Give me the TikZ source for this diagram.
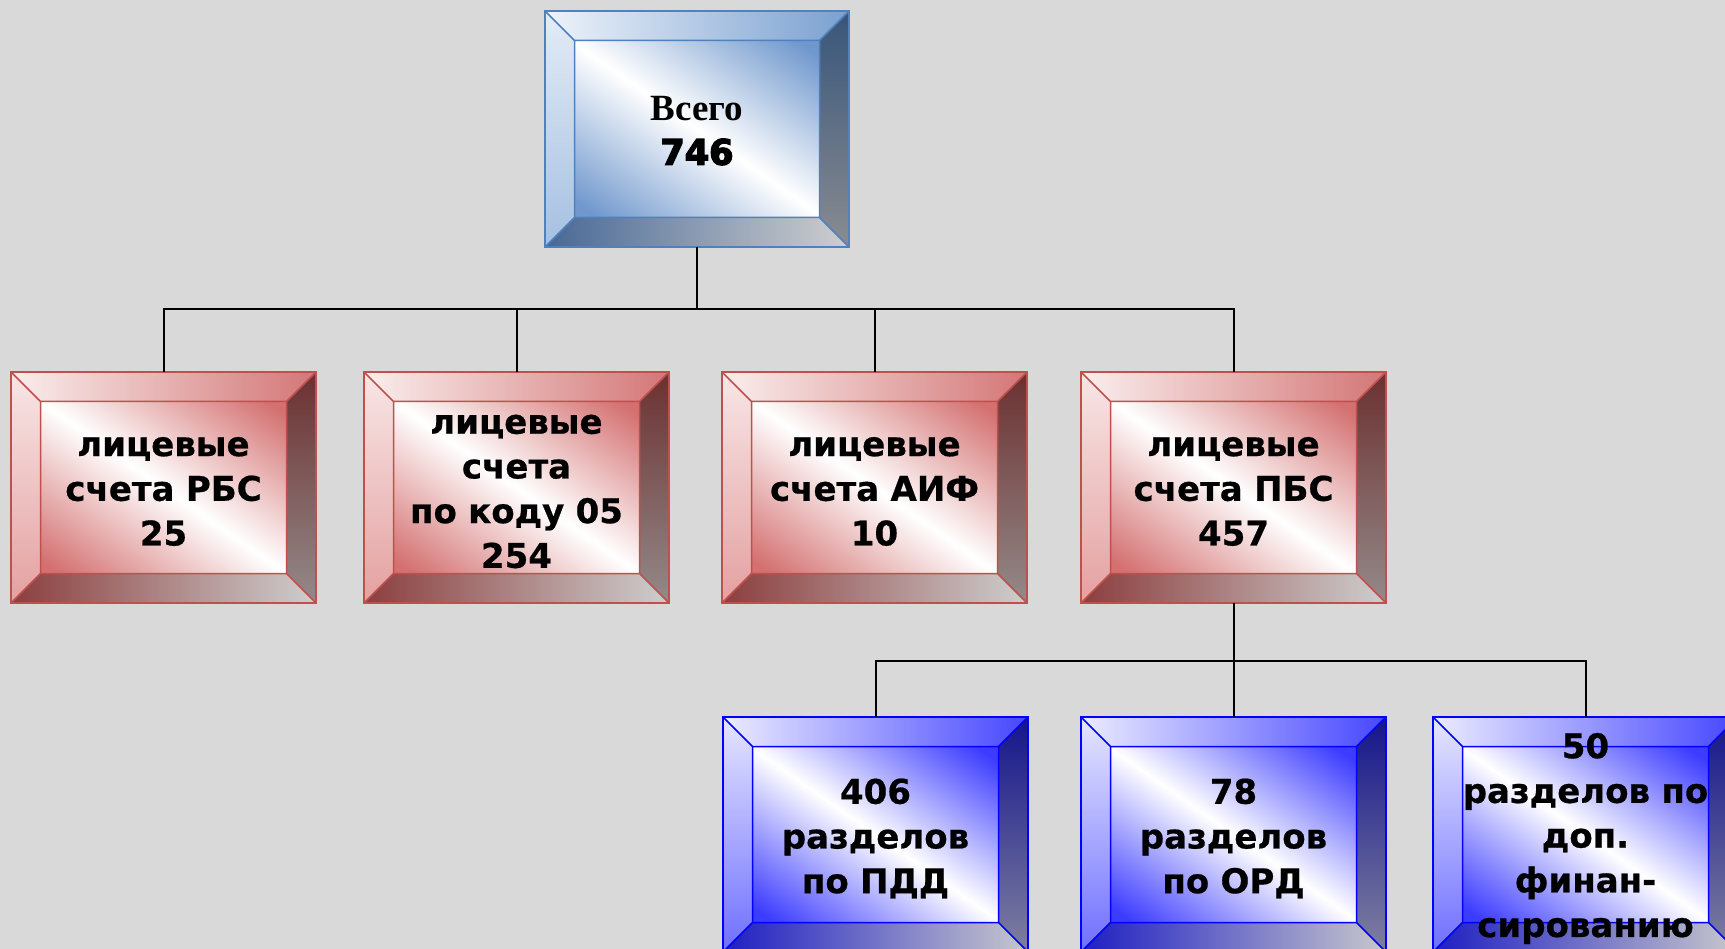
\documentclass[tikz,border=0pt]{standalone}
\usepackage{fontspec}
\newfontfamily\boxfont[FakeBold=0.6]{DejaVu Sans Bold}
\newfontfamily\heavyfont[FakeBold=4]{DejaVu Sans Bold}
\newfontfamily\serifb{Liberation Serif}
\definecolor{bg}{RGB}{217,217,217}
% red boxes
\definecolor{RLine}{RGB}{192,80,77}
\definecolor{RFace}{RGB}{212,112,112}
\definecolor{RTopL}{RGB}{250,238,238}
\definecolor{RTopR}{RGB}{212,118,118}
\definecolor{RLeftT}{RGB}{248,230,230}
\definecolor{RLeftB}{RGB}{228,160,160}
\definecolor{RRightT}{RGB}{108,48,48}
\definecolor{RRightB}{RGB}{148,138,138}
\definecolor{RBotL}{RGB}{140,62,62}
\definecolor{RBotR}{RGB}{206,206,206}
% top box
\definecolor{TLine}{RGB}{79,129,189}
\definecolor{TFace}{RGB}{112,152,205}
\definecolor{TTopL}{RGB}{238,243,250}
\definecolor{TTopR}{RGB}{122,160,208}
\definecolor{TLeftT}{RGB}{228,236,246}
\definecolor{TLeftB}{RGB}{165,192,225}
\definecolor{TRightT}{RGB}{55,85,122}
\definecolor{TRightB}{RGB}{138,140,145}
\definecolor{TBotL}{RGB}{72,104,150}
\definecolor{TBotR}{RGB}{206,206,206}
% vivid blue boxes
\definecolor{BLine}{RGB}{0,0,255}
\definecolor{BFace}{RGB}{60,60,255}
\definecolor{BTopL}{RGB}{236,236,255}
\definecolor{BTopR}{RGB}{70,70,255}
\definecolor{BLeftT}{RGB}{230,230,255}
\definecolor{BLeftB}{RGB}{110,110,255}
\definecolor{BRightT}{RGB}{20,20,140}
\definecolor{BRightB}{RGB}{128,128,160}
\definecolor{BBotL}{RGB}{30,30,195}
\definecolor{BBotR}{RGB}{200,200,205}
\tikzset{
  bevel/.style={
    rectangle, inner sep=0pt, outer sep=0pt,
    draw=#1Line, line width=1.5pt,
    path picture={
      \coordinate (SW) at (path picture bounding box.south west);
      \coordinate (NE) at (path picture bounding box.north east);
      \coordinate (NW) at (path picture bounding box.north west);
      \coordinate (SE) at (path picture bounding box.south east);
      \coordinate (FC) at (path picture bounding box.center);
      \coordinate (sw) at ([shift={(29.5pt,29.5pt)}]SW);
      \coordinate (ne) at ([shift={(-29.5pt,-29.5pt)}]NE);
      \coordinate (nw) at ([shift={(29.5pt,-29.5pt)}]NW);
      \coordinate (se) at ([shift={(-29.5pt,29.5pt)}]SE);
      \path[left color=#1TopL, right color=#1TopR] (NW) -- (NE) -- (ne) -- (nw) -- cycle;
      \path[top color=#1LeftT, bottom color=#1LeftB] (NW) -- (nw) -- (sw) -- (SW) -- cycle;
      \path[top color=#1RightT, bottom color=#1RightB] (NE) -- (SE) -- (se) -- (ne) -- cycle;
      \path[left color=#1BotL, right color=#1BotR] (SW) -- (sw) -- (se) -- (SE) -- cycle;
      \fill[#1Face] (sw) rectangle (ne);
      \begin{scope}
        \clip (sw) rectangle (ne);
        \path[transform canvas={rotate around={55:(FC)}},
              left color=#1Face, right color=#1Face, middle color=white]
          ([shift={(-130pt,-320pt)}]FC) rectangle ([shift={(130pt,320pt)}]FC);
      \end{scope}
      \draw[#1Line, line width=1.5pt] (sw) rectangle (ne)
        (NW) -- (nw) (NE) -- (ne) (SW) -- (sw) (SE) -- (se);
    }
  },
  redbox/.style={bevel=R, minimum width=305pt, minimum height=231pt},
  topbox/.style={bevel=T, minimum width=304pt, minimum height=236pt},
  bluebox/.style={bevel=B, minimum width=305pt, minimum height=235pt},
  boxtext/.style={inner sep=0pt, align=center, text width=290pt,
    font=\boxfont\fontsize{34}{44.7}\selectfont},
  conn/.style={draw=black, line width=2pt}
}
\begin{document}
\begin{tikzpicture}[x=1pt,y=-1pt]
\fill[bg] (0,0) rectangle (1725,949);
\useasboundingbox (0,0) rectangle (1725,949);
\coordinate (bus1) at (0,309);
\coordinate (bus2) at (0,661);
\node[topbox] (top) at (697,129) {};
\node[redbox] (r1) at (163.5,487.5) {};
\node[redbox] (r2) at (516.5,487.5) {};
\node[redbox] (r3) at (874.5,487.5) {};
\node[redbox] (r4) at (1233.5,487.5) {};
\node[bluebox] (b1) at (875.5,834.5) {};
\node[bluebox] (b2) at (1233.5,834.5) {};
\node[bluebox] (b3) at (1585.5,834.5) {};
\node[boxtext] (topt) at ([yshift=-1.5pt]top.center)
  {{\serifb\bfseries\fontsize{37}{44.7}\selectfont Всего}\\{\heavyfont\fontsize{35}{44.7}\selectfont 746}};
\node[boxtext] (r1t) at ([yshift=-4pt]r1.center) {лицевые\\счета РБС\\25};
\node[boxtext] (r2t) at ([yshift=-4pt]r2.center) {лицевые\\счета\\по коду 05\\254};
\node[boxtext] (r3t) at ([yshift=-4pt]r3.center) {лицевые\\счета АИФ\\10};
\node[boxtext] (r4t) at ([yshift=-4pt]r4.center) {лицевые\\счета ПБС\\457};
\node[boxtext] (b1t) at ([yshift=-4pt]b1.center) {406\\разделов\\по ПДД};
\node[boxtext] (b2t) at ([yshift=-4pt]b2.center) {78\\разделов\\по ОРД};
\node[boxtext] (b3t) at ([yshift=-4pt]b3.center) {50\\разделов по\\доп.\\финан-\\сированию};
\draw[conn] (top.south) -- (top.south |- bus1);
\draw[conn] (r1.north) |- (r4.north |- bus1) -- (r4.north);
\draw[conn] (r2.north) -- (r2.north |- bus1);
\draw[conn] (r3.north) -- (r3.north |- bus1);
\draw[conn] (r4.south) -- (r4.south |- bus2);
\draw[conn] (b1.north) |- (b3.north |- bus2) -- (b3.north);
\draw[conn] (b2.north) -- (b2.north |- bus2);
\end{tikzpicture}
\end{document}
